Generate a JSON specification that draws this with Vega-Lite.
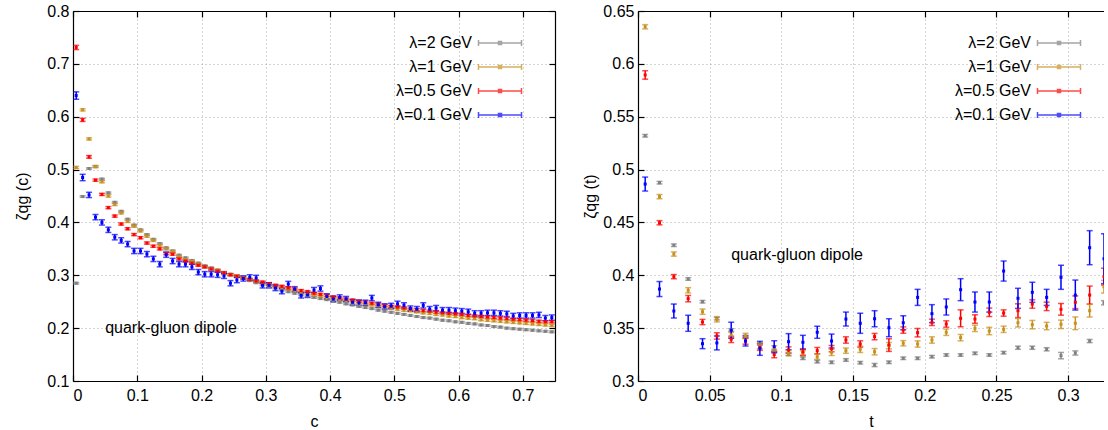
{
"$schema":"https://vega.github.io/schema/vega-lite/v6.json",
"padding":{"left":14,"top":3,"right":0,"bottom":0},
"config":{"font":"Liberation Sans","view":{"stroke":null},
"axis":{"labelFontSize":16,"titleFontSize":16,"titleFontWeight":"normal","labelColor":"#000","titleColor":"#000","domainColor":"#000","domainWidth":1.2,"tickColor":"#000","tickWidth":1.2,"gridColor":"#a8a8a8","gridDash":[1,3],"gridWidth":1,"labelFont":"Liberation Sans","titleFont":"Liberation Sans"},
"legend":{"title":null,"labelFontSize":16,"labelFont":"Liberation Sans","labelColor":"#000","symbolType":"M-4.3,0H4.3M-4.3,-0.6V0.6M4.3,-0.6V0.6M-0.3,-0.3H0.3V0.3H-0.3Z","symbolSize":100,"symbolStrokeWidth":1.5,"labelAlign":"right","labelOffset":-36,"rowPadding":8}},
"spacing":26,
"resolve":{"legend":{"color":"independent"}},
"datasets":{
"L":[
{"s":"λ=2 GeV","x":0.005,"y":0.285,"e":0.0015},{"s":"λ=2 GeV","x":0.015,"y":0.449,"e":0.0015},{"s":"λ=2 GeV","x":0.025,"y":0.502,"e":0.0015},{"s":"λ=2 GeV","x":0.035,"y":0.506,"e":0.0015},{"s":"λ=2 GeV","x":0.045,"y":0.482,"e":0.0015},{"s":"λ=2 GeV","x":0.055,"y":0.456,"e":0.0015},{"s":"λ=2 GeV","x":0.065,"y":0.438,"e":0.0015},{"s":"λ=2 GeV","x":0.075,"y":0.421,"e":0.0015},{"s":"λ=2 GeV","x":0.085,"y":0.406,"e":0.0015},{"s":"λ=2 GeV","x":0.095,"y":0.395,"e":0.0015},
{"s":"λ=2 GeV","x":0.105,"y":0.386,"e":0.0015},{"s":"λ=2 GeV","x":0.115,"y":0.377,"e":0.0015},{"s":"λ=2 GeV","x":0.125,"y":0.368,"e":0.0015},{"s":"λ=2 GeV","x":0.135,"y":0.36,"e":0.0015},{"s":"λ=2 GeV","x":0.145,"y":0.352,"e":0.0015},{"s":"λ=2 GeV","x":0.155,"y":0.346,"e":0.0015},{"s":"λ=2 GeV","x":0.165,"y":0.338,"e":0.0015},{"s":"λ=2 GeV","x":0.175,"y":0.333,"e":0.0015},{"s":"λ=2 GeV","x":0.185,"y":0.328,"e":0.0015},{"s":"λ=2 GeV","x":0.195,"y":0.323,"e":0.0015},
{"s":"λ=2 GeV","x":0.205,"y":0.318,"e":0.0015},{"s":"λ=2 GeV","x":0.215,"y":0.314,"e":0.0015},{"s":"λ=2 GeV","x":0.225,"y":0.31,"e":0.0015},{"s":"λ=2 GeV","x":0.235,"y":0.305,"e":0.0015},{"s":"λ=2 GeV","x":0.245,"y":0.302,"e":0.0015},{"s":"λ=2 GeV","x":0.255,"y":0.298,"e":0.0015},{"s":"λ=2 GeV","x":0.265,"y":0.294,"e":0.0015},{"s":"λ=2 GeV","x":0.275,"y":0.29,"e":0.0015},{"s":"λ=2 GeV","x":0.285,"y":0.286,"e":0.0015},{"s":"λ=2 GeV","x":0.295,"y":0.282,"e":0.0015},
{"s":"λ=2 GeV","x":0.305,"y":0.279,"e":0.0015},{"s":"λ=2 GeV","x":0.315,"y":0.276,"e":0.0015},{"s":"λ=2 GeV","x":0.325,"y":0.272,"e":0.0015},{"s":"λ=2 GeV","x":0.335,"y":0.269,"e":0.0015},{"s":"λ=2 GeV","x":0.345,"y":0.266,"e":0.0015},{"s":"λ=2 GeV","x":0.355,"y":0.263,"e":0.0015},{"s":"λ=2 GeV","x":0.365,"y":0.261,"e":0.0015},{"s":"λ=2 GeV","x":0.375,"y":0.258,"e":0.0015},{"s":"λ=2 GeV","x":0.385,"y":0.256,"e":0.0015},{"s":"λ=2 GeV","x":0.395,"y":0.254,"e":0.0015},
{"s":"λ=2 GeV","x":0.405,"y":0.251,"e":0.0015},{"s":"λ=2 GeV","x":0.415,"y":0.249,"e":0.0015},{"s":"λ=2 GeV","x":0.425,"y":0.246,"e":0.0015},{"s":"λ=2 GeV","x":0.435,"y":0.244,"e":0.0015},{"s":"λ=2 GeV","x":0.445,"y":0.241,"e":0.0015},{"s":"λ=2 GeV","x":0.455,"y":0.239,"e":0.0015},{"s":"λ=2 GeV","x":0.465,"y":0.237,"e":0.0015},{"s":"λ=2 GeV","x":0.475,"y":0.234,"e":0.0015},{"s":"λ=2 GeV","x":0.485,"y":0.232,"e":0.0015},{"s":"λ=2 GeV","x":0.495,"y":0.23,"e":0.0015},
{"s":"λ=2 GeV","x":0.505,"y":0.228,"e":0.0015},{"s":"λ=2 GeV","x":0.515,"y":0.226,"e":0.0015},{"s":"λ=2 GeV","x":0.525,"y":0.224,"e":0.0015},{"s":"λ=2 GeV","x":0.535,"y":0.222,"e":0.0015},{"s":"λ=2 GeV","x":0.545,"y":0.22,"e":0.0015},{"s":"λ=2 GeV","x":0.555,"y":0.219,"e":0.0015},{"s":"λ=2 GeV","x":0.565,"y":0.217,"e":0.0015},{"s":"λ=2 GeV","x":0.575,"y":0.215,"e":0.0015},{"s":"λ=2 GeV","x":0.585,"y":0.214,"e":0.0015},{"s":"λ=2 GeV","x":0.595,"y":0.212,"e":0.0015},
{"s":"λ=2 GeV","x":0.605,"y":0.211,"e":0.0015},{"s":"λ=2 GeV","x":0.615,"y":0.209,"e":0.0015},{"s":"λ=2 GeV","x":0.625,"y":0.208,"e":0.0015},{"s":"λ=2 GeV","x":0.635,"y":0.206,"e":0.0015},{"s":"λ=2 GeV","x":0.645,"y":0.205,"e":0.0015},{"s":"λ=2 GeV","x":0.655,"y":0.203,"e":0.0015},{"s":"λ=2 GeV","x":0.665,"y":0.202,"e":0.0015},{"s":"λ=2 GeV","x":0.675,"y":0.2,"e":0.0015},{"s":"λ=2 GeV","x":0.685,"y":0.199,"e":0.0015},{"s":"λ=2 GeV","x":0.695,"y":0.198,"e":0.0015},
{"s":"λ=2 GeV","x":0.705,"y":0.197,"e":0.0015},{"s":"λ=2 GeV","x":0.715,"y":0.196,"e":0.0015},{"s":"λ=2 GeV","x":0.725,"y":0.195,"e":0.0015},{"s":"λ=2 GeV","x":0.735,"y":0.194,"e":0.0015},{"s":"λ=2 GeV","x":0.745,"y":0.193,"e":0.0015},
{"s":"λ=1 GeV","x":0.005,"y":0.504,"e":0.002},{"s":"λ=1 GeV","x":0.015,"y":0.613,"e":0.002},{"s":"λ=1 GeV","x":0.025,"y":0.558,"e":0.002},{"s":"λ=1 GeV","x":0.035,"y":0.5055,"e":0.002},{"s":"λ=1 GeV","x":0.045,"y":0.477,"e":0.002},{"s":"λ=1 GeV","x":0.055,"y":0.45,"e":0.002},{"s":"λ=1 GeV","x":0.065,"y":0.434,"e":0.002},{"s":"λ=1 GeV","x":0.075,"y":0.418,"e":0.002},{"s":"λ=1 GeV","x":0.085,"y":0.402,"e":0.002},{"s":"λ=1 GeV","x":0.095,"y":0.393,"e":0.002},
{"s":"λ=1 GeV","x":0.105,"y":0.384,"e":0.002},{"s":"λ=1 GeV","x":0.115,"y":0.374,"e":0.002},{"s":"λ=1 GeV","x":0.125,"y":0.366,"e":0.002},{"s":"λ=1 GeV","x":0.135,"y":0.357,"e":0.002},{"s":"λ=1 GeV","x":0.145,"y":0.35,"e":0.002},{"s":"λ=1 GeV","x":0.155,"y":0.345,"e":0.002},{"s":"λ=1 GeV","x":0.165,"y":0.335,"e":0.002},{"s":"λ=1 GeV","x":0.175,"y":0.33,"e":0.002},{"s":"λ=1 GeV","x":0.185,"y":0.326,"e":0.002},{"s":"λ=1 GeV","x":0.195,"y":0.321,"e":0.002},
{"s":"λ=1 GeV","x":0.205,"y":0.316,"e":0.002},{"s":"λ=1 GeV","x":0.215,"y":0.312,"e":0.002},{"s":"λ=1 GeV","x":0.225,"y":0.309,"e":0.002},{"s":"λ=1 GeV","x":0.235,"y":0.304,"e":0.002},{"s":"λ=1 GeV","x":0.245,"y":0.301,"e":0.002},{"s":"λ=1 GeV","x":0.255,"y":0.299,"e":0.002},{"s":"λ=1 GeV","x":0.265,"y":0.296,"e":0.002},{"s":"λ=1 GeV","x":0.275,"y":0.292,"e":0.002},{"s":"λ=1 GeV","x":0.285,"y":0.289,"e":0.002},{"s":"λ=1 GeV","x":0.295,"y":0.286,"e":0.002},
{"s":"λ=1 GeV","x":0.305,"y":0.283,"e":0.002},{"s":"λ=1 GeV","x":0.315,"y":0.28,"e":0.002},{"s":"λ=1 GeV","x":0.325,"y":0.277,"e":0.002},{"s":"λ=1 GeV","x":0.335,"y":0.274,"e":0.002},{"s":"λ=1 GeV","x":0.345,"y":0.271,"e":0.002},{"s":"λ=1 GeV","x":0.355,"y":0.268,"e":0.002},{"s":"λ=1 GeV","x":0.365,"y":0.266,"e":0.002},{"s":"λ=1 GeV","x":0.375,"y":0.263,"e":0.002},{"s":"λ=1 GeV","x":0.385,"y":0.261,"e":0.002},{"s":"λ=1 GeV","x":0.395,"y":0.258,"e":0.002},
{"s":"λ=1 GeV","x":0.405,"y":0.256,"e":0.002},{"s":"λ=1 GeV","x":0.415,"y":0.254,"e":0.002},{"s":"λ=1 GeV","x":0.425,"y":0.252,"e":0.002},{"s":"λ=1 GeV","x":0.435,"y":0.25,"e":0.002},{"s":"λ=1 GeV","x":0.445,"y":0.248,"e":0.002},{"s":"λ=1 GeV","x":0.455,"y":0.246,"e":0.002},{"s":"λ=1 GeV","x":0.465,"y":0.244,"e":0.002},{"s":"λ=1 GeV","x":0.475,"y":0.242,"e":0.002},{"s":"λ=1 GeV","x":0.485,"y":0.24,"e":0.002},{"s":"λ=1 GeV","x":0.495,"y":0.238,"e":0.002},
{"s":"λ=1 GeV","x":0.505,"y":0.236,"e":0.002},{"s":"λ=1 GeV","x":0.515,"y":0.234,"e":0.002},{"s":"λ=1 GeV","x":0.525,"y":0.233,"e":0.002},{"s":"λ=1 GeV","x":0.535,"y":0.231,"e":0.002},{"s":"λ=1 GeV","x":0.545,"y":0.229,"e":0.002},{"s":"λ=1 GeV","x":0.555,"y":0.228,"e":0.002},{"s":"λ=1 GeV","x":0.565,"y":0.226,"e":0.002},{"s":"λ=1 GeV","x":0.575,"y":0.225,"e":0.002},{"s":"λ=1 GeV","x":0.585,"y":0.223,"e":0.002},{"s":"λ=1 GeV","x":0.595,"y":0.222,"e":0.002},
{"s":"λ=1 GeV","x":0.605,"y":0.22,"e":0.002},{"s":"λ=1 GeV","x":0.615,"y":0.219,"e":0.002},{"s":"λ=1 GeV","x":0.625,"y":0.218,"e":0.002},{"s":"λ=1 GeV","x":0.635,"y":0.216,"e":0.002},{"s":"λ=1 GeV","x":0.645,"y":0.215,"e":0.002},{"s":"λ=1 GeV","x":0.655,"y":0.214,"e":0.002},{"s":"λ=1 GeV","x":0.665,"y":0.213,"e":0.002},{"s":"λ=1 GeV","x":0.675,"y":0.212,"e":0.002},{"s":"λ=1 GeV","x":0.685,"y":0.211,"e":0.002},{"s":"λ=1 GeV","x":0.695,"y":0.21,"e":0.002},
{"s":"λ=1 GeV","x":0.705,"y":0.209,"e":0.002},{"s":"λ=1 GeV","x":0.715,"y":0.208,"e":0.002},{"s":"λ=1 GeV","x":0.725,"y":0.207,"e":0.002},{"s":"λ=1 GeV","x":0.735,"y":0.206,"e":0.002},{"s":"λ=1 GeV","x":0.745,"y":0.205,"e":0.002},
{"s":"λ=0.5 GeV","x":0.005,"y":0.731,"e":0.004},{"s":"λ=0.5 GeV","x":0.015,"y":0.594,"e":0.003},{"s":"λ=0.5 GeV","x":0.025,"y":0.524,"e":0.0025},{"s":"λ=0.5 GeV","x":0.035,"y":0.48,"e":0.002},{"s":"λ=0.5 GeV","x":0.045,"y":0.453,"e":0.002},{"s":"λ=0.5 GeV","x":0.055,"y":0.428,"e":0.002},{"s":"λ=0.5 GeV","x":0.065,"y":0.412,"e":0.002},{"s":"λ=0.5 GeV","x":0.075,"y":0.397,"e":0.002},{"s":"λ=0.5 GeV","x":0.085,"y":0.388,"e":0.002},{"s":"λ=0.5 GeV","x":0.095,"y":0.377,"e":0.002},
{"s":"λ=0.5 GeV","x":0.105,"y":0.371,"e":0.002},{"s":"λ=0.5 GeV","x":0.115,"y":0.361,"e":0.002},{"s":"λ=0.5 GeV","x":0.125,"y":0.355,"e":0.002},{"s":"λ=0.5 GeV","x":0.135,"y":0.35,"e":0.002},{"s":"λ=0.5 GeV","x":0.145,"y":0.341,"e":0.002},{"s":"λ=0.5 GeV","x":0.155,"y":0.34,"e":0.002},{"s":"λ=0.5 GeV","x":0.165,"y":0.331,"e":0.002},{"s":"λ=0.5 GeV","x":0.175,"y":0.327,"e":0.002},{"s":"λ=0.5 GeV","x":0.185,"y":0.323,"e":0.002},{"s":"λ=0.5 GeV","x":0.195,"y":0.319,"e":0.002},
{"s":"λ=0.5 GeV","x":0.205,"y":0.316,"e":0.002},{"s":"λ=0.5 GeV","x":0.215,"y":0.312,"e":0.002},{"s":"λ=0.5 GeV","x":0.225,"y":0.308,"e":0.002},{"s":"λ=0.5 GeV","x":0.235,"y":0.305,"e":0.002},{"s":"λ=0.5 GeV","x":0.245,"y":0.301,"e":0.002},{"s":"λ=0.5 GeV","x":0.255,"y":0.298,"e":0.002},{"s":"λ=0.5 GeV","x":0.265,"y":0.295,"e":0.002},{"s":"λ=0.5 GeV","x":0.275,"y":0.292,"e":0.002},{"s":"λ=0.5 GeV","x":0.285,"y":0.289,"e":0.002},{"s":"λ=0.5 GeV","x":0.295,"y":0.287,"e":0.002},
{"s":"λ=0.5 GeV","x":0.305,"y":0.284,"e":0.002},{"s":"λ=0.5 GeV","x":0.315,"y":0.281,"e":0.002},{"s":"λ=0.5 GeV","x":0.325,"y":0.279,"e":0.002},{"s":"λ=0.5 GeV","x":0.335,"y":0.276,"e":0.002},{"s":"λ=0.5 GeV","x":0.345,"y":0.274,"e":0.002},{"s":"λ=0.5 GeV","x":0.355,"y":0.271,"e":0.002},{"s":"λ=0.5 GeV","x":0.365,"y":0.269,"e":0.002},{"s":"λ=0.5 GeV","x":0.375,"y":0.266,"e":0.002},{"s":"λ=0.5 GeV","x":0.385,"y":0.264,"e":0.002},{"s":"λ=0.5 GeV","x":0.395,"y":0.262,"e":0.002},
{"s":"λ=0.5 GeV","x":0.405,"y":0.259,"e":0.002},{"s":"λ=0.5 GeV","x":0.415,"y":0.257,"e":0.002},{"s":"λ=0.5 GeV","x":0.425,"y":0.255,"e":0.002},{"s":"λ=0.5 GeV","x":0.435,"y":0.253,"e":0.002},{"s":"λ=0.5 GeV","x":0.445,"y":0.251,"e":0.002},{"s":"λ=0.5 GeV","x":0.455,"y":0.249,"e":0.002},{"s":"λ=0.5 GeV","x":0.465,"y":0.247,"e":0.002},{"s":"λ=0.5 GeV","x":0.475,"y":0.245,"e":0.002},{"s":"λ=0.5 GeV","x":0.485,"y":0.243,"e":0.002},{"s":"λ=0.5 GeV","x":0.495,"y":0.241,"e":0.002},
{"s":"λ=0.5 GeV","x":0.505,"y":0.24,"e":0.002},{"s":"λ=0.5 GeV","x":0.515,"y":0.238,"e":0.002},{"s":"λ=0.5 GeV","x":0.525,"y":0.236,"e":0.002},{"s":"λ=0.5 GeV","x":0.535,"y":0.235,"e":0.002},{"s":"λ=0.5 GeV","x":0.545,"y":0.233,"e":0.002},{"s":"λ=0.5 GeV","x":0.555,"y":0.232,"e":0.002},{"s":"λ=0.5 GeV","x":0.565,"y":0.23,"e":0.002},{"s":"λ=0.5 GeV","x":0.575,"y":0.229,"e":0.002},{"s":"λ=0.5 GeV","x":0.585,"y":0.228,"e":0.002},{"s":"λ=0.5 GeV","x":0.595,"y":0.227,"e":0.002},
{"s":"λ=0.5 GeV","x":0.605,"y":0.226,"e":0.002},{"s":"λ=0.5 GeV","x":0.615,"y":0.224,"e":0.002},{"s":"λ=0.5 GeV","x":0.625,"y":0.223,"e":0.002},{"s":"λ=0.5 GeV","x":0.635,"y":0.222,"e":0.002},{"s":"λ=0.5 GeV","x":0.645,"y":0.221,"e":0.002},{"s":"λ=0.5 GeV","x":0.655,"y":0.22,"e":0.002},{"s":"λ=0.5 GeV","x":0.665,"y":0.219,"e":0.002},{"s":"λ=0.5 GeV","x":0.675,"y":0.218,"e":0.002},{"s":"λ=0.5 GeV","x":0.685,"y":0.217,"e":0.002},{"s":"λ=0.5 GeV","x":0.695,"y":0.216,"e":0.002},
{"s":"λ=0.5 GeV","x":0.705,"y":0.215,"e":0.002},{"s":"λ=0.5 GeV","x":0.715,"y":0.214,"e":0.002},{"s":"λ=0.5 GeV","x":0.725,"y":0.213,"e":0.002},{"s":"λ=0.5 GeV","x":0.735,"y":0.212,"e":0.002},{"s":"λ=0.5 GeV","x":0.745,"y":0.212,"e":0.002},
{"s":"λ=0.1 GeV","x":0.005,"y":0.64,"e":0.007},{"s":"λ=0.1 GeV","x":0.015,"y":0.485,"e":0.006},{"s":"λ=0.1 GeV","x":0.025,"y":0.452,"e":0.005},{"s":"λ=0.1 GeV","x":0.035,"y":0.41,"e":0.005},{"s":"λ=0.1 GeV","x":0.045,"y":0.4,"e":0.005},{"s":"λ=0.1 GeV","x":0.055,"y":0.386,"e":0.005},{"s":"λ=0.1 GeV","x":0.065,"y":0.372,"e":0.005},{"s":"λ=0.1 GeV","x":0.075,"y":0.366,"e":0.005},{"s":"λ=0.1 GeV","x":0.085,"y":0.359,"e":0.005},{"s":"λ=0.1 GeV","x":0.095,"y":0.346,"e":0.005},
{"s":"λ=0.1 GeV","x":0.105,"y":0.346,"e":0.005},{"s":"λ=0.1 GeV","x":0.115,"y":0.34,"e":0.005},{"s":"λ=0.1 GeV","x":0.125,"y":0.331,"e":0.005},{"s":"λ=0.1 GeV","x":0.135,"y":0.321,"e":0.005},{"s":"λ=0.1 GeV","x":0.145,"y":0.339,"e":0.005},{"s":"λ=0.1 GeV","x":0.155,"y":0.327,"e":0.005},{"s":"λ=0.1 GeV","x":0.165,"y":0.321,"e":0.005},{"s":"λ=0.1 GeV","x":0.175,"y":0.321,"e":0.005},{"s":"λ=0.1 GeV","x":0.185,"y":0.316,"e":0.005},{"s":"λ=0.1 GeV","x":0.195,"y":0.306,"e":0.005},
{"s":"λ=0.1 GeV","x":0.205,"y":0.302,"e":0.005},{"s":"λ=0.1 GeV","x":0.215,"y":0.302,"e":0.005},{"s":"λ=0.1 GeV","x":0.225,"y":0.301,"e":0.005},{"s":"λ=0.1 GeV","x":0.235,"y":0.299,"e":0.005},{"s":"λ=0.1 GeV","x":0.245,"y":0.285,"e":0.005},{"s":"λ=0.1 GeV","x":0.255,"y":0.291,"e":0.005},{"s":"λ=0.1 GeV","x":0.265,"y":0.294,"e":0.005},{"s":"λ=0.1 GeV","x":0.275,"y":0.296,"e":0.005},{"s":"λ=0.1 GeV","x":0.285,"y":0.295,"e":0.005},{"s":"λ=0.1 GeV","x":0.295,"y":0.281,"e":0.005},
{"s":"λ=0.1 GeV","x":0.305,"y":0.281,"e":0.005},{"s":"λ=0.1 GeV","x":0.315,"y":0.276,"e":0.005},{"s":"λ=0.1 GeV","x":0.325,"y":0.27,"e":0.005},{"s":"λ=0.1 GeV","x":0.335,"y":0.2835,"e":0.005},{"s":"λ=0.1 GeV","x":0.345,"y":0.2735,"e":0.005},{"s":"λ=0.1 GeV","x":0.355,"y":0.262,"e":0.005},{"s":"λ=0.1 GeV","x":0.365,"y":0.263,"e":0.005},{"s":"λ=0.1 GeV","x":0.375,"y":0.272,"e":0.005},{"s":"λ=0.1 GeV","x":0.385,"y":0.275,"e":0.005},{"s":"λ=0.1 GeV","x":0.395,"y":0.26,"e":0.005},
{"s":"λ=0.1 GeV","x":0.405,"y":0.255,"e":0.005},{"s":"λ=0.1 GeV","x":0.415,"y":0.258,"e":0.005},{"s":"λ=0.1 GeV","x":0.425,"y":0.255,"e":0.005},{"s":"λ=0.1 GeV","x":0.435,"y":0.249,"e":0.005},{"s":"λ=0.1 GeV","x":0.445,"y":0.248,"e":0.005},{"s":"λ=0.1 GeV","x":0.455,"y":0.248,"e":0.005},{"s":"λ=0.1 GeV","x":0.465,"y":0.257,"e":0.005},{"s":"λ=0.1 GeV","x":0.475,"y":0.244,"e":0.005},{"s":"λ=0.1 GeV","x":0.485,"y":0.241,"e":0.005},{"s":"λ=0.1 GeV","x":0.495,"y":0.242,"e":0.005},
{"s":"λ=0.1 GeV","x":0.505,"y":0.246,"e":0.005},{"s":"λ=0.1 GeV","x":0.515,"y":0.243,"e":0.005},{"s":"λ=0.1 GeV","x":0.525,"y":0.237,"e":0.005},{"s":"λ=0.1 GeV","x":0.535,"y":0.236,"e":0.005},{"s":"λ=0.1 GeV","x":0.545,"y":0.243,"e":0.005},{"s":"λ=0.1 GeV","x":0.555,"y":0.236,"e":0.005},{"s":"λ=0.1 GeV","x":0.565,"y":0.238,"e":0.005},{"s":"λ=0.1 GeV","x":0.575,"y":0.234,"e":0.005},{"s":"λ=0.1 GeV","x":0.585,"y":0.234,"e":0.005},{"s":"λ=0.1 GeV","x":0.595,"y":0.233,"e":0.005},
{"s":"λ=0.1 GeV","x":0.605,"y":0.232,"e":0.005},{"s":"λ=0.1 GeV","x":0.615,"y":0.231,"e":0.005},{"s":"λ=0.1 GeV","x":0.625,"y":0.228,"e":0.005},{"s":"λ=0.1 GeV","x":0.635,"y":0.228,"e":0.005},{"s":"λ=0.1 GeV","x":0.645,"y":0.229,"e":0.005},{"s":"λ=0.1 GeV","x":0.655,"y":0.229,"e":0.005},{"s":"λ=0.1 GeV","x":0.665,"y":0.228,"e":0.005},{"s":"λ=0.1 GeV","x":0.675,"y":0.227,"e":0.005},{"s":"λ=0.1 GeV","x":0.685,"y":0.223,"e":0.005},{"s":"λ=0.1 GeV","x":0.695,"y":0.224,"e":0.005},
{"s":"λ=0.1 GeV","x":0.705,"y":0.224,"e":0.005},{"s":"λ=0.1 GeV","x":0.715,"y":0.224,"e":0.005},{"s":"λ=0.1 GeV","x":0.725,"y":0.225,"e":0.005},{"s":"λ=0.1 GeV","x":0.735,"y":0.219,"e":0.005},{"s":"λ=0.1 GeV","x":0.745,"y":0.22,"e":0.005}
],
"R":[
{"s":"λ=2 GeV","x":0.005,"y":0.532,"e":0.0012},{"s":"λ=2 GeV","x":0.015,"y":0.4876,"e":0.0012},{"s":"λ=2 GeV","x":0.025,"y":0.4284,"e":0.0012},{"s":"λ=2 GeV","x":0.035,"y":0.3965,"e":0.0012},{"s":"λ=2 GeV","x":0.045,"y":0.375,"e":0.0012},{"s":"λ=2 GeV","x":0.055,"y":0.359,"e":0.0012},{"s":"λ=2 GeV","x":0.065,"y":0.3483,"e":0.0012},{"s":"λ=2 GeV","x":0.075,"y":0.342,"e":0.0012},{"s":"λ=2 GeV","x":0.085,"y":0.335,"e":0.0012},{"s":"λ=2 GeV","x":0.095,"y":0.3287,"e":0.0012},
{"s":"λ=2 GeV","x":0.105,"y":0.3255,"e":0.0012},{"s":"λ=2 GeV","x":0.115,"y":0.3215,"e":0.0012},{"s":"λ=2 GeV","x":0.125,"y":0.3183,"e":0.0012},{"s":"λ=2 GeV","x":0.135,"y":0.3177,"e":0.0012},{"s":"λ=2 GeV","x":0.145,"y":0.3199,"e":0.0012},{"s":"λ=2 GeV","x":0.155,"y":0.3173,"e":0.0012},{"s":"λ=2 GeV","x":0.165,"y":0.3151,"e":0.0015},{"s":"λ=2 GeV","x":0.175,"y":0.3177,"e":0.0012},{"s":"λ=2 GeV","x":0.185,"y":0.3215,"e":0.0012},{"s":"λ=2 GeV","x":0.195,"y":0.3215,"e":0.0012},
{"s":"λ=2 GeV","x":0.205,"y":0.323,"e":0.0012},{"s":"λ=2 GeV","x":0.215,"y":0.3246,"e":0.0012},{"s":"λ=2 GeV","x":0.225,"y":0.3246,"e":0.0012},{"s":"λ=2 GeV","x":0.235,"y":0.3262,"e":0.0012},{"s":"λ=2 GeV","x":0.245,"y":0.3246,"e":0.0012},{"s":"λ=2 GeV","x":0.255,"y":0.3268,"e":0.0012},{"s":"λ=2 GeV","x":0.265,"y":0.3315,"e":0.0015},{"s":"λ=2 GeV","x":0.275,"y":0.3315,"e":0.0015},{"s":"λ=2 GeV","x":0.285,"y":0.33,"e":0.0015},{"s":"λ=2 GeV","x":0.295,"y":0.324,"e":0.003},
{"s":"λ=2 GeV","x":0.305,"y":0.3265,"e":0.002},{"s":"λ=2 GeV","x":0.315,"y":0.3378,"e":0.0015},{"s":"λ=2 GeV","x":0.325,"y":0.374,"e":0.002},
{"s":"λ=1 GeV","x":0.005,"y":0.6351,"e":0.002},{"s":"λ=1 GeV","x":0.015,"y":0.4744,"e":0.002},{"s":"λ=1 GeV","x":0.025,"y":0.4201,"e":0.002},{"s":"λ=1 GeV","x":0.035,"y":0.3858,"e":0.0025},{"s":"λ=1 GeV","x":0.045,"y":0.3656,"e":0.0025},{"s":"λ=1 GeV","x":0.055,"y":0.3584,"e":0.0025},{"s":"λ=1 GeV","x":0.065,"y":0.3435,"e":0.0025},{"s":"λ=1 GeV","x":0.075,"y":0.3426,"e":0.0025},{"s":"λ=1 GeV","x":0.085,"y":0.3331,"e":0.0025},{"s":"λ=1 GeV","x":0.095,"y":0.3309,"e":0.0025},
{"s":"λ=1 GeV","x":0.105,"y":0.3262,"e":0.0025},{"s":"λ=1 GeV","x":0.115,"y":0.3262,"e":0.0025},{"s":"λ=1 GeV","x":0.125,"y":0.323,"e":0.0025},{"s":"λ=1 GeV","x":0.135,"y":0.3271,"e":0.003},{"s":"λ=1 GeV","x":0.145,"y":0.3287,"e":0.0025},{"s":"λ=1 GeV","x":0.155,"y":0.33,"e":0.003},{"s":"λ=1 GeV","x":0.165,"y":0.3277,"e":0.003},{"s":"λ=1 GeV","x":0.175,"y":0.3334,"e":0.003},{"s":"λ=1 GeV","x":0.185,"y":0.3357,"e":0.0025},{"s":"λ=1 GeV","x":0.195,"y":0.335,"e":0.003},
{"s":"λ=1 GeV","x":0.205,"y":0.3388,"e":0.003},{"s":"λ=1 GeV","x":0.215,"y":0.3461,"e":0.003},{"s":"λ=1 GeV","x":0.225,"y":0.341,"e":0.003},{"s":"λ=1 GeV","x":0.235,"y":0.3498,"e":0.003},{"s":"λ=1 GeV","x":0.245,"y":0.3473,"e":0.0035},{"s":"λ=1 GeV","x":0.255,"y":0.3489,"e":0.003},{"s":"λ=1 GeV","x":0.265,"y":0.3551,"e":0.004},{"s":"λ=1 GeV","x":0.275,"y":0.3533,"e":0.004},{"s":"λ=1 GeV","x":0.285,"y":0.352,"e":0.0035},{"s":"λ=1 GeV","x":0.295,"y":0.3536,"e":0.004},
{"s":"λ=1 GeV","x":0.305,"y":0.3546,"e":0.006},{"s":"λ=1 GeV","x":0.315,"y":0.3665,"e":0.006},{"s":"λ=1 GeV","x":0.325,"y":0.3892,"e":0.006},
{"s":"λ=0.5 GeV","x":0.005,"y":0.5895,"e":0.004},{"s":"λ=0.5 GeV","x":0.015,"y":0.4497,"e":0.002},{"s":"λ=0.5 GeV","x":0.025,"y":0.3987,"e":0.002},{"s":"λ=0.5 GeV","x":0.035,"y":0.3779,"e":0.003},{"s":"λ=0.5 GeV","x":0.045,"y":0.3558,"e":0.0025},{"s":"λ=0.5 GeV","x":0.055,"y":0.3426,"e":0.003},{"s":"λ=0.5 GeV","x":0.065,"y":0.3394,"e":0.003},{"s":"λ=0.5 GeV","x":0.075,"y":0.3378,"e":0.003},{"s":"λ=0.5 GeV","x":0.085,"y":0.332,"e":0.003},{"s":"λ=0.5 GeV","x":0.095,"y":0.325,"e":0.003},
{"s":"λ=0.5 GeV","x":0.105,"y":0.3293,"e":0.003},{"s":"λ=0.5 GeV","x":0.115,"y":0.3274,"e":0.003},{"s":"λ=0.5 GeV","x":0.125,"y":0.3287,"e":0.003},{"s":"λ=0.5 GeV","x":0.135,"y":0.3306,"e":0.003},{"s":"λ=0.5 GeV","x":0.145,"y":0.3388,"e":0.003},{"s":"λ=0.5 GeV","x":0.155,"y":0.335,"e":0.003},{"s":"λ=0.5 GeV","x":0.165,"y":0.342,"e":0.003},{"s":"λ=0.5 GeV","x":0.175,"y":0.334,"e":0.006},{"s":"λ=0.5 GeV","x":0.185,"y":0.3482,"e":0.003},{"s":"λ=0.5 GeV","x":0.195,"y":0.3457,"e":0.004},
{"s":"λ=0.5 GeV","x":0.205,"y":0.3555,"e":0.003},{"s":"λ=0.5 GeV","x":0.215,"y":0.3539,"e":0.003},{"s":"λ=0.5 GeV","x":0.225,"y":0.3593,"e":0.008},{"s":"λ=0.5 GeV","x":0.235,"y":0.3586,"e":0.004},{"s":"λ=0.5 GeV","x":0.245,"y":0.365,"e":0.004},{"s":"λ=0.5 GeV","x":0.255,"y":0.3643,"e":0.003},{"s":"λ=0.5 GeV","x":0.265,"y":0.3665,"e":0.0065},{"s":"λ=0.5 GeV","x":0.275,"y":0.3728,"e":0.004},{"s":"λ=0.5 GeV","x":0.285,"y":0.3706,"e":0.004},{"s":"λ=0.5 GeV","x":0.295,"y":0.3678,"e":0.0055},
{"s":"λ=0.5 GeV","x":0.305,"y":0.3745,"e":0.006},{"s":"λ=0.5 GeV","x":0.315,"y":0.3813,"e":0.0085},{"s":"λ=0.5 GeV","x":0.325,"y":0.3987,"e":0.008},
{"s":"λ=0.1 GeV","x":0.005,"y":0.4863,"e":0.0066},{"s":"λ=0.1 GeV","x":0.015,"y":0.387,"e":0.0071},{"s":"λ=0.1 GeV","x":0.025,"y":0.3662,"e":0.0066},{"s":"λ=0.1 GeV","x":0.035,"y":0.3546,"e":0.0076},{"s":"λ=0.1 GeV","x":0.045,"y":0.3353,"e":0.0047},{"s":"λ=0.1 GeV","x":0.055,"y":0.336,"e":0.0066},{"s":"λ=0.1 GeV","x":0.065,"y":0.348,"e":0.0076},{"s":"λ=0.1 GeV","x":0.075,"y":0.3378,"e":0.0047},{"s":"λ=0.1 GeV","x":0.085,"y":0.3309,"e":0.0066},{"s":"λ=0.1 GeV","x":0.095,"y":0.3324,"e":0.0057},
{"s":"λ=0.1 GeV","x":0.105,"y":0.3372,"e":0.0076},{"s":"λ=0.1 GeV","x":0.115,"y":0.3366,"e":0.0066},{"s":"λ=0.1 GeV","x":0.125,"y":0.3461,"e":0.0057},{"s":"λ=0.1 GeV","x":0.135,"y":0.3378,"e":0.0066},{"s":"λ=0.1 GeV","x":0.145,"y":0.3586,"e":0.0066},{"s":"λ=0.1 GeV","x":0.155,"y":0.3546,"e":0.0095},{"s":"λ=0.1 GeV","x":0.165,"y":0.3589,"e":0.0076},{"s":"λ=0.1 GeV","x":0.175,"y":0.3504,"e":0.0085},{"s":"λ=0.1 GeV","x":0.185,"y":0.3551,"e":0.0066},{"s":"λ=0.1 GeV","x":0.195,"y":0.3791,"e":0.0076},
{"s":"λ=0.1 GeV","x":0.205,"y":0.3637,"e":0.0085},{"s":"λ=0.1 GeV","x":0.215,"y":0.37,"e":0.0076},{"s":"λ=0.1 GeV","x":0.225,"y":0.3864,"e":0.0104},{"s":"λ=0.1 GeV","x":0.235,"y":0.3747,"e":0.0095},{"s":"λ=0.1 GeV","x":0.245,"y":0.3747,"e":0.0095},{"s":"λ=0.1 GeV","x":0.255,"y":0.404,"e":0.0095},{"s":"λ=0.1 GeV","x":0.265,"y":0.3782,"e":0.0095},{"s":"λ=0.1 GeV","x":0.275,"y":0.3839,"e":0.0095},{"s":"λ=0.1 GeV","x":0.285,"y":0.3791,"e":0.0076},{"s":"λ=0.1 GeV","x":0.295,"y":0.3981,"e":0.0114},
{"s":"λ=0.1 GeV","x":0.305,"y":0.3813,"e":0.0142},{"s":"λ=0.1 GeV","x":0.315,"y":0.4261,"e":0.0161},{"s":"λ=0.1 GeV","x":0.325,"y":0.4157,"e":0.0236}
]
},
"hconcat":[
{"width":482,"height":370,"data":{"name":"L"},
"layer":[
{"mark":{"type":"errorbar","ticks":{"size":6},"thickness":1.5},
"encoding":{
"x":{"field":"x","type":"quantitative","scale":{"domain":[0,0.75],"nice":false,"zero":false},"axis":{"orient":"bottom","values":[0,0.1,0.2,0.3,0.4,0.5,0.6,0.7],"format":"~g","title":"c","grid":true,"tickSize":-6,"labelPadding":12,"titlePadding":10}},
"y":{"field":"y","type":"quantitative","scale":{"domain":[0.1,0.8],"nice":false,"zero":false},"axis":{"orient":"left","values":[0.1,0.2,0.3,0.4,0.5,0.6,0.7,0.8],"format":"~g","title":"ζqg (c)","grid":true,"tickSize":-6,"labelPadding":10,"titlePadding":16}},
"yError":{"field":"e"},
"color":{"field":"s","type":"nominal","scale":{"domain":["λ=2 GeV","λ=1 GeV","λ=0.5 GeV","λ=0.1 GeV"],"range":["#808080","#c8901e","#ff0000","#0000ff"]},"legend":{"orient":"none","legendX":419,"legendY":24}}}},
{"mark":{"type":"square","size":9,"opacity":1},
"encoding":{
"x":{"field":"x","type":"quantitative","scale":{"domain":[0,0.75],"nice":false,"zero":false},"axis":{"orient":"top","values":[0,0.1,0.2,0.3,0.4,0.5,0.6,0.7],"labels":false,"title":null,"grid":false,"tickSize":-6}},
"y":{"field":"y","type":"quantitative","scale":{"domain":[0.1,0.8],"nice":false,"zero":false},"axis":{"orient":"right","values":[0.1,0.2,0.3,0.4,0.5,0.6,0.7,0.8],"labels":false,"title":null,"grid":false,"tickSize":-6}},
"fill":{"field":"s","type":"nominal","scale":{"domain":["λ=2 GeV","λ=1 GeV","λ=0.5 GeV","λ=0.1 GeV"],"range":["#808080","#c8901e","#ff0000","#0000ff"]},"legend":null}}},
{"data":{"values":[{"x":0.05,"y":0.2,"label":"quark-gluon dipole"}]},
"mark":{"type":"text","align":"left","baseline":"middle","fontSize":16,"font":"Liberation Sans","color":"#000"},
"encoding":{"x":{"field":"x","type":"quantitative","axis":null},"y":{"field":"y","type":"quantitative","axis":null},"text":{"field":"label"}}}
],
"resolve":{"axis":{"x":"independent","y":"independent"}}},
{"width":466,"height":370,"data":{"name":"R"},
"layer":[
{"mark":{"type":"errorbar","ticks":{"size":6},"thickness":1.5,"clip":true},
"encoding":{
"x":{"field":"x","type":"quantitative","scale":{"domain":[0,0.325],"nice":false,"zero":false},"axis":{"orient":"bottom","values":[0,0.05,0.1,0.15,0.2,0.25,0.3],"format":"~g","title":"t","grid":true,"tickSize":-6,"labelPadding":12,"titlePadding":10}},
"y":{"field":"y","type":"quantitative","scale":{"domain":[0.3,0.65],"nice":false,"zero":false},"axis":{"orient":"left","values":[0.3,0.35,0.4,0.45,0.5,0.55,0.6,0.65],"format":"~g","title":"ζqg (t)","grid":true,"tickSize":-6,"labelPadding":10,"titlePadding":4}},
"yError":{"field":"e"},
"color":{"field":"s","type":"nominal","scale":{"domain":["λ=2 GeV","λ=1 GeV","λ=0.5 GeV","λ=0.1 GeV"],"range":["#808080","#c8901e","#ff0000","#0000ff"]},"legend":{"orient":"none","legendX":413,"legendY":24}}}},
{"mark":{"type":"square","size":9,"opacity":1,"clip":true},
"encoding":{
"x":{"field":"x","type":"quantitative","scale":{"domain":[0,0.325],"nice":false,"zero":false},"axis":{"orient":"top","values":[0,0.05,0.1,0.15,0.2,0.25,0.3],"labels":false,"title":null,"grid":false,"tickSize":-6}},
"y":{"field":"y","type":"quantitative","scale":{"domain":[0.3,0.65],"nice":false,"zero":false},"axis":null},
"fill":{"field":"s","type":"nominal","scale":{"domain":["λ=2 GeV","λ=1 GeV","λ=0.5 GeV","λ=0.1 GeV"],"range":["#808080","#c8901e","#ff0000","#0000ff"]},"legend":null}}},
{"data":{"values":[{"x":0.065,"y":0.419,"label":"quark-gluon dipole"}]},
"mark":{"type":"text","align":"left","baseline":"middle","fontSize":16,"font":"Liberation Sans","color":"#000"},
"encoding":{"x":{"field":"x","type":"quantitative","axis":null},"y":{"field":"y","type":"quantitative","axis":null},"text":{"field":"label"}}}
],
"resolve":{"axis":{"x":"independent","y":"independent"}}}
]
}
